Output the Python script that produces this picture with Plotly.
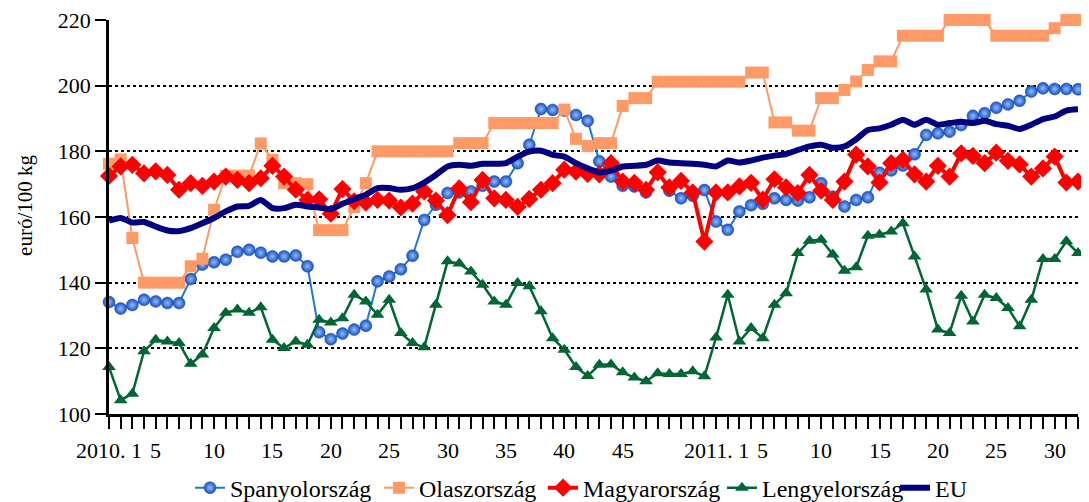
import plotly.graph_objects as go

# weekly categories: 2010 weeks 1-52, 2011 weeks 1-32
weeks = [f"2010-{w:02d}" for w in range(1, 53)] + [f"2011-{w:02d}" for w in range(1, 33)]

# weeks that carry a visible tick label
label_weeks = {
    "2010-01": "2010. 1", "2010-05": "5", "2010-10": "10", "2010-15": "15",
    "2010-20": "20", "2010-25": "25", "2010-30": "30", "2010-35": "35",
    "2010-40": "40", "2010-45": "45",
    "2011-01": "2011. 1", "2011-05": "5", "2011-10": "10", "2011-15": "15",
    "2011-20": "20", "2011-25": "25", "2011-30": "30",
}

spanyol = [134.1, 132.1, 133.2, 134.8, 134.3, 133.8, 133.8, 141.1, 145.5, 146.2,
           147.0, 149.4, 150.0, 149.1, 148.0, 148.0, 148.3, 145.0, 124.9, 122.8,
           124.5, 125.7, 126.9, 140.4, 141.9, 144.1, 148.2, 159.1, 163.7, 167.3,
           167.5, 167.8, 169.5, 170.8, 170.8, 176.4, 182.0, 192.9, 192.6, 192.4,
           191.1, 189.3, 177.0, 172.3, 169.5, 169.3, 167.5, 173.4, 168.0, 165.7,
           166.5, 168.2, 158.6, 156.1, 161.7, 163.6, 164.0, 165.7, 165.2, 165.0,
           166.0, 170.3, 166.2, 163.2, 165.2, 166.0, 173.5, 174.2, 175.7, 179.1,
           185.0, 185.5, 186.0, 188.0, 190.8, 191.6, 193.3, 194.3, 195.4, 198.2,
           199.2, 199.0, 199.0, 198.9]

olasz = [176.2, 177.5, 153.6, 140.0, 140.0, 140.0, 140.0, 145.0, 147.3, 162.2,
         172.6, 172.6, 172.6, 182.4, 177.4, 170.3, 170.3, 170.0, 156.0, 156.0,
         156.0, 163.0, 170.3, 180.0, 180.0, 180.0, 180.0, 180.0, 180.0, 180.0,
         182.5, 182.5, 182.5, 188.6, 188.6, 188.6, 188.6, 188.6, 188.6, 192.7,
         183.8, 181.6, 182.5, 182.5, 193.8, 196.2, 196.2, 201.2, 201.2, 201.2,
         201.2, 201.2, 201.2, 201.2, 201.2, 204.0, 204.0, 188.8, 188.8, 186.3,
         186.3, 196.2, 196.2, 198.7, 201.3, 204.8, 207.4, 207.4, 215.2, 215.2,
         215.2, 215.2, 220.0, 220.0, 220.0, 220.0, 215.2, 215.2, 215.2, 215.2,
         215.2, 217.5, 220.0, 220.0]

magyar = [172.5, 175.4, 175.9, 173.3, 173.9, 172.8, 168.3, 170.3, 169.5, 170.8,
          172.3, 171.3, 170.3, 171.8, 175.6, 172.3, 168.3, 165.2, 165.4, 161.0,
          168.5, 164.8, 164.4, 165.2, 165.0, 162.9, 164.1, 167.8, 165.0, 160.6,
          168.7, 164.5, 171.3, 165.7, 165.2, 163.1, 165.5, 168.3, 170.3, 174.4,
          173.8, 173.1, 173.0, 176.4, 170.8, 170.4, 168.3, 173.6, 169.0, 171.0,
          167.5, 152.5, 167.5, 167.5, 169.3, 170.4, 165.3, 171.5, 169.0, 167.3,
          172.8, 168.0, 165.2, 170.8, 179.0, 175.4, 170.5, 176.4, 177.4, 173.0,
          170.8, 175.6, 172.3, 179.4, 178.6, 176.4, 179.6, 177.1, 176.0, 172.3,
          174.8, 178.4, 170.5, 170.8]

lengyel = [114.3, 104.2, 106.2, 119.1, 122.6, 122.1, 121.6, 115.3, 118.1, 126.2,
           130.8, 131.8, 130.8, 132.5, 122.6, 120.1, 122.1, 121.1, 128.7, 127.9,
           129.2, 136.3, 134.3, 130.2, 134.8, 124.7, 121.6, 120.3, 133.3, 146.5,
           145.8, 143.4, 139.4, 134.3, 133.3, 139.9, 138.9, 131.3, 123.1, 119.6,
           114.3, 111.6, 115.0, 115.1, 112.7, 111.1, 110.0, 112.4, 112.2, 112.2,
           113.0, 111.5, 123.3, 136.3, 122.1, 126.2, 123.1, 133.3, 136.8, 149.0,
           152.8, 153.1, 148.6, 143.6, 144.7, 154.3, 154.6, 155.6, 158.1, 148.0,
           137.9, 125.7, 124.7, 136.0, 128.2, 136.3, 135.3, 132.3, 126.7, 134.8,
           147.2, 147.2, 152.6, 149.0]

eu = [158.9, 159.7, 158.3, 158.5, 157.1, 155.9, 155.7, 156.6, 158.1, 159.7,
      161.7, 163.2, 163.4, 165.2, 162.7, 162.7, 163.7, 163.2, 162.9, 162.4,
      164.0, 165.5, 166.8, 168.8, 168.8, 168.3, 168.8, 170.5, 172.8, 175.4,
      175.9, 175.6, 176.2, 176.2, 176.4, 178.4, 179.9, 180.2, 178.9, 178.4,
      176.4, 174.8, 173.6, 174.1, 175.4, 175.6, 175.9, 177.2, 176.6, 176.4,
      176.2, 175.9, 175.4, 177.2, 176.6, 177.2, 178.1, 178.7, 179.2, 180.4,
      181.5, 182.0, 181.1, 181.5, 183.7, 186.5, 187.0, 188.1, 189.6, 188.1,
      189.6, 188.1, 188.6, 189.0, 188.6, 189.3, 188.3, 187.8, 186.8, 188.1,
      189.8, 190.6, 192.4, 192.8]

y_ticks = [100, 120, 140, 160, 180, 200, 220]

FONT = "Liberation Serif"

fig = go.Figure()
fig.add_trace(go.Scatter(
    x=weeks, y=spanyol, mode='lines+markers', name='Spanyolország', legend='legend',
    line=dict(color='#1f78d8', width=2),
    marker=dict(symbol='circle', size=12, color='#1a4fc4',
                gradient=dict(type='radial', color='#8ec0ff'),
                line=dict(color='#1848a8', width=0.5)),
    cliponaxis=False))
fig.add_trace(go.Scatter(
    x=weeks, y=olasz, mode='lines+markers', name='Olaszország', legend='legend2',
    line=dict(color='#ff9966', width=2),
    marker=dict(symbol='square', size=12, color='#ff9966'),
    cliponaxis=False))
fig.add_trace(go.Scatter(
    x=weeks, y=magyar, mode='lines+markers', name='Magyarország', legend='legend3',
    line=dict(color='#ff0000', width=4),
    marker=dict(symbol='diamond', size=14, color='#ff0000'),
    cliponaxis=False))
fig.add_trace(go.Scatter(
    x=weeks, y=lengyel, mode='lines+markers', name='Lengyelország', legend='legend4',
    line=dict(color='#006633', width=2.5),
    marker=dict(symbol='triangle-up', size=12, color='#006633'),
    cliponaxis=False))
fig.add_trace(go.Scatter(
    x=weeks, y=eu, mode='lines', name='EU', legend='legend5',
    line=dict(color='#000080', width=6, shape='spline', smoothing=0.6),
    cliponaxis=False))

# the page adds an 8px body margin, so the figure is 8px smaller on the left/top
PLOT_L, PLOT_W = 101, 969


def leg(px):
    # px: wanted left edge of the legend entry in window pixels
    return dict(orientation='h', x=(px - 8 - PLOT_L) / PLOT_W, xanchor='left',
                y=-0.188, yanchor='middle', font=dict(family=FONT, size=24),
                itemwidth=30, bgcolor='rgba(0,0,0,0)')


# week labels under the axis, placed a little lower than plotly's default
week_labels = [dict(text=lab, x=w, xref='x', y=-0.057, yref='paper',
                    xanchor='center', yanchor='top', showarrow=False,
                    font=dict(family=FONT, size=22))
               for w, lab in label_weeks.items()]

fig.update_layout(
    width=1081, height=494,
    margin=dict(l=PLOT_L, r=11, t=12, b=88, autoexpand=False),
    paper_bgcolor='white', plot_bgcolor='white',
    font=dict(family=FONT, size=22, color='black'),
    showlegend=True,
    legend=leg(190), legend2=leg(379), legend3=leg(543), legend4=leg(722), legend5=leg(895),
    annotations=[dict(text='euró/100 kg', textangle=-90, xref='paper', yref='paper',
                      x=-0.087, y=0.53, xanchor='center', yanchor='middle',
                      showarrow=False, font=dict(family=FONT, size=21))] + week_labels,
)
fig.update_xaxes(
    type='category', range=[0, len(weeks) - 1],
    tickmode='array', tickvals=weeks, showticklabels=False,
    ticks='outside', ticklen=12, tickwidth=2, tickcolor='black',
    showline=True, linecolor='black', linewidth=2.5,
    showgrid=False, zeroline=False,
)
fig.update_yaxes(
    range=[100, 220], tickvals=y_ticks,
    ticks='outside', ticklen=11, tickwidth=2, tickcolor='black',
    showline=True, linecolor='black', linewidth=2.5,
    showgrid=True, gridcolor='black', gridwidth=2, griddash='dot',
    zeroline=False, tickfont=dict(family=FONT, size=22),
    ticklabeloverflow='allow',
)

fig.write_html("out.html")
